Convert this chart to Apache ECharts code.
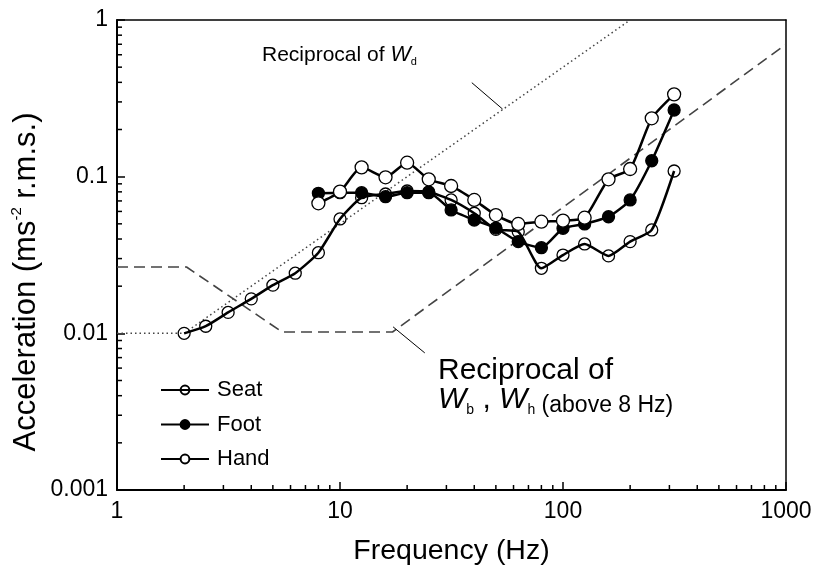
<!DOCTYPE html>
<html><head><meta charset="utf-8">
<script src="https://cdn.jsdelivr.net/npm/echarts@6/dist/echarts.min.js"></script>
<style>html,body{margin:0;padding:0;background:#fff}#c{width:820px;height:577px}</style>
</head><body><div id="c"></div>
<script>
// ---- data ----
const seatFreqs = [2,2.5,3.15,4,5,6.3,8,10,12.5,16,20,25,31.5,40,50,63,80,100,125,160,200,250,315];
const seatVals  = [0.0100,0.0111,0.0136,0.0166,0.0203,0.0242,0.0327,0.0537,0.0734,0.0775,0.0810,0.0798,0.0710,0.0584,0.0461,0.0445,0.0260,0.0316,0.0372,0.0312,0.0385,0.0457,0.1087];
const limbFreqs = [8,10,12.5,16,20,25,31.5,40,50,63,80,100,125,160,200,250,315];
const footVals  = [0.0783,0.0790,0.0790,0.0745,0.0790,0.0790,0.0613,0.0529,0.0470,0.0385,0.0352,0.0468,0.0499,0.0555,0.0710,0.1264,0.2664];
const handVals  = [0.0676,0.0802,0.1147,0.0991,0.1228,0.0962,0.0872,0.0710,0.0569,0.0499,0.0516,0.0524,0.0547,0.0962,0.1119,0.2358,0.3354];
const wdFreqs = [1,2,200];
const wdVals  = [0.01,0.01,1];
const wbFreqs = [1,2.05,5.5,17.2,1000];
const wbVals  = [0.0265,0.0265,0.0102,0.0102,0.70];
const wdLeaderFreqs = [39,53.6];
const wdLeaderVals  = [0.398,0.27];
const wbLeaderFreqs = [17.3,24];
const wbLeaderVals  = [0.011,0.0075];
const xTickLabels = ['1','10','100','1000'];
const yTickLabels = ['0.001','0.01','0.1','1'];
const xMinor = [2,3,4,5,6,7,8,9,20,30,40,50,60,70,80,90,200,300,400,500,600,700,800,900];
const yMinor = [0.002,0.003,0.004,0.005,0.006,0.007,0.008,0.009,0.02,0.03,0.04,0.05,0.06,0.07,0.08,0.09,0.2,0.3,0.4,0.5,0.6,0.7,0.8,0.9];

const FONT = 'Liberation Sans, Arial, sans-serif';
const pair = (xs, ys) => xs.map((x, i) => [x, ys[i]]);
const X_MIN = 1, X_MAX = 1000, Y_MIN = 0.001, Y_MAX = 1;

const chart = echarts.init(document.getElementById('c'), null, {renderer: 'canvas'});

function lineSeries(name, xs, ys, itemStyle, size) {
  return {
    name, type: 'line', data: pair(xs, ys), symbol: 'circle', symbolSize: size,
    smooth: 0.2, lineStyle: {color: '#000', width: 2.5},
    itemStyle, emphasis: {disabled: true}, z: 5
  };
}

const option = {
  animation: false,
  backgroundColor: '#fff',
  textStyle: {fontFamily: FONT},
  grid: {left: 117, right: 34, top: 20, bottom: 87, containLabel: false},
  xAxis: [{
    type: 'log', logBase: 10, min: X_MIN, max: X_MAX, interval: 1,
    axisLine: {show: true, lineStyle: {color: '#000', width: 2}},
    axisTick: {show: true, inside: true, length: 8, lineStyle: {color: '#000', width: 1.5}},
    minorTick: {show: false},
    splitLine: {show: false},
    axisLabel: {fontSize: 23, color: '#000', margin: 10, fontFamily: FONT,
      formatter: (v) => xTickLabels[Math.round(Math.log10(v))]},
    name: 'Frequency (Hz)', nameLocation: 'middle', nameGap: 47,
    nameTextStyle: {fontSize: 28.5, color: '#000', fontFamily: FONT}
  }, {
    type: 'log', logBase: 10, min: X_MIN, max: X_MAX, position: 'top',
    axisLine: {show: true, onZero: false, lineStyle: {color: '#000', width: 1.5}},
    axisTick: {show: false}, axisLabel: {show: false}, splitLine: {show: false}
  }],
  yAxis: [{
    type: 'log', logBase: 10, min: Y_MIN, max: Y_MAX, interval: 1,
    axisLine: {show: true, lineStyle: {color: '#000', width: 2}},
    axisTick: {show: true, inside: true, length: 8, lineStyle: {color: '#000', width: 1.5}},
    splitLine: {show: false},
    axisLabel: {fontSize: 23, color: '#000', margin: 9, fontFamily: FONT,
      formatter: (v) => yTickLabels[Math.round(Math.log10(v)) + 3]}
  }, {
    type: 'log', logBase: 10, min: Y_MIN, max: Y_MAX, position: 'right',
    axisLine: {show: true, onZero: false, lineStyle: {color: '#000', width: 1.5}},
    axisTick: {show: false}, axisLabel: {show: false}, splitLine: {show: false}
  }],
  legend: {
    data: ['Seat', 'Foot', 'Hand'], orient: 'vertical', left: 155, top: 374,
    itemWidth: 48, itemHeight: 11, itemGap: 12.5,
    textStyle: {fontSize: 22, color: '#000', fontFamily: FONT, padding: [0,0,0,3]},
    selectedMode: false
  },
  series: [
    {
      name: 'wd', type: 'line', data: pair(wdFreqs, wdVals), symbol: 'none',
      lineStyle: {color: '#444', width: 1.5, type: [1.5, 3]}, z: 2, silent: true
    },
    {
      name: 'wb', type: 'line', data: pair(wbFreqs, wbVals), symbol: 'none',
      lineStyle: {color: '#444', width: 1.6, type: [11, 6]}, z: 2, silent: true
    },
    {
      name: 'wdLeader', type: 'line', data: pair(wdLeaderFreqs, wdLeaderVals), symbol: 'none',
      lineStyle: {color: '#000', width: 1}, z: 2, silent: true
    },
    {
      name: 'wbLeader', type: 'line', data: pair(wbLeaderFreqs, wbLeaderVals), symbol: 'none',
      lineStyle: {color: '#000', width: 1}, z: 2, silent: true
    },
    lineSeries('Seat', seatFreqs, seatVals, {color: 'rgba(255,255,255,0)', borderColor: '#000', borderWidth: 1.3}, 12),
    lineSeries('Foot', limbFreqs, footVals, {color: '#000', borderColor: '#000', borderWidth: 1.3}, 12),
    lineSeries('Hand', limbFreqs, handVals, {color: '#fff', borderColor: '#000', borderWidth: 1.3}, 13),
    {
      name: 'xMinorTicks', type: 'custom', silent: true, z: 6,
      data: xMinor.map(v => [v, Y_MIN]),
      renderItem: (params, api) => {
        const p = api.coord([api.value(0), Y_MIN]);
        return {type: 'line', shape: {x1: p[0], y1: p[1], x2: p[0], y2: p[1] - 5},
          style: {stroke: '#000', lineWidth: 1.5}};
      }
    },
    {
      name: 'yMinorTicks', type: 'custom', silent: true, z: 6,
      data: yMinor.map(v => [X_MIN, v]),
      renderItem: (params, api) => {
        const p = api.coord([X_MIN, api.value(1)]);
        return {type: 'line', shape: {x1: p[0], y1: p[1], x2: p[0] + 5, y2: p[1]},
          style: {stroke: '#000', lineWidth: 1.5}};
      }
    }
  ],
  graphic: [
    {
      type: 'text', x: 26, y: 282, rotation: Math.PI / 2,
      style: {
        text: '{a|Acceleration (ms}{s|-2}{a| r.m.s.)}',
        align: 'center', verticalAlign: 'middle',
        rich: {
          a: {fontSize: 31, fontFamily: FONT, fill: '#000', lineHeight: 34},
          s: {fontSize: 15, fontFamily: FONT, fill: '#000', verticalAlign: 'top', lineHeight: 15}
        }
      }
    },
    {
      type: 'text', left: 262, top: 44,
      style: {
        text: '{n|Reciprocal of }{w|W}{s|d}',
        rich: {
          n: {fontSize: 21, fontFamily: FONT, fill: '#000', lineHeight: 25},
          w: {fontSize: 21.5, fontFamily: FONT, fontStyle: 'italic', fill: '#000', lineHeight: 25},
          s: {fontSize: 11, fontFamily: FONT, fill: '#000', verticalAlign: 'bottom', lineHeight: 11}
        }
      }
    },
    {
      type: 'text', left: 438, top: 356,
      style: {
        text: '{n|Reciprocal of}',
        rich: {n: {fontSize: 30, fontFamily: FONT, fill: '#000', lineHeight: 34}}
      }
    },
    {
      type: 'text', left: 438, top: 385,
      style: {
        text: '{w|W}{s|b}{n| , }{w|W}{s|h}{p| (above 8 Hz)}',
        rich: {
          n: {fontSize: 30, fontFamily: FONT, fill: '#000', lineHeight: 34},
          w: {fontSize: 30, fontFamily: FONT, fontStyle: 'italic', fill: '#000', lineHeight: 34},
          s: {fontSize: 14, fontFamily: FONT, fill: '#000', verticalAlign: 'bottom', lineHeight: 14},
          p: {fontSize: 23, fontFamily: FONT, fill: '#000', verticalAlign: 'bottom', lineHeight: 28}
        }
      }
    }
  ]
};
chart.setOption(option);
</script>
</body></html>
